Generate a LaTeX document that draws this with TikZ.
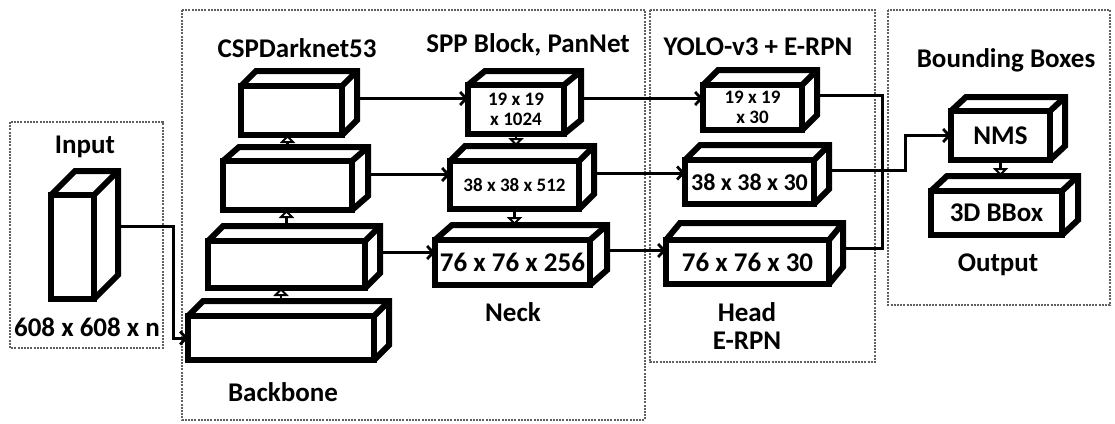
\documentclass[tikz,border=0pt]{standalone}
\usepackage{fontspec}
\setmainfont{Carlito}
\usetikzlibrary{arrows.meta,calc}

\tikzset{
  cubeface/.style={draw, line width=6pt, fill=white, inner sep=0pt, outer sep=0pt,
    align=center, font=\bfseries\fontsize{27}{29}\selectfont},
  cuberim/.style={line width=6pt, line join=miter},
  zone/.style={draw=gray!75!black, line width=1.1pt, dash pattern=on 2pt off 1.2pt},
  wire/.style={line width=3pt},
  feed/.style={wire, -{Straight Barb[length=6pt,width=13pt,line width=2.8pt]}},
  lift/.style={line width=2.6pt, -{Triangle[open,fill=white,length=8pt,width=15pt,line width=2.6pt]}},
  heading/.style={font=\bfseries\fontsize{27}{28}\selectfont, inner sep=0pt, align=center},
}

% \cuboid[opts]{name}{cx}{cy}{width}{height}{depth x}{depth up}{text}
\newcommand\cuboid[9][]{%
  \node[cubeface, minimum width=#5pt, minimum height=#6pt, #1] (#2) at (#3,#4) {#9};
  \draw[cuberim] (#2.north west) -- ++(#7,-#8) -- ($(#2.north east)+(#7,-#8)$)
    -- ($(#2.south east)+(#7,-#8)$) -- (#2.south east);
  \draw[cuberim] (#2.north east) -- ++(#7,-#8);
  \coordinate (#2r) at ($(#2.east)+(#7,-#8+3)$);
  \coordinate (#2t) at ($(#2.north)+(#7,-#8)$);
}

\begin{document}
\begin{tikzpicture}[x=1pt,y=-1pt]
\useasboundingbox (0,0) rectangle (1115,423);

% stage frames
\draw[zone] (10,122) rectangle (163,348);
\draw[zone] (182,10) rectangle (645,420);
\draw[zone] (650,10) rectangle (875,362);
\draw[zone] (888,10) rectangle (1110,305);

% input tensor
\cuboid{inp}{72.5}{247}{43}{104}{24}{24}{}

% backbone
\cuboid{bb1}{291.5}{110.5}{101}{49}{15}{15}{}
\cuboid{bb2}{287.5}{185.5}{129}{49}{16}{14}{}
\cuboid{bb3}{286.5}{264.5}{157}{47}{15}{15}{}
\cuboid{bb4}{281}{338}{186}{44}{15}{15}{}

% neck
\cuboid[font=\bfseries\fontsize{19}{20}\selectfont]{nk1}{516}{109.5}{96}{49}{17}{14}{19 x 19\\x 1024}
\cuboid[font=\bfseries\fontsize{19}{21}\selectfont]{nk2}{514.5}{185}{129}{48}{15}{15}{38 x 38 x 512}
\cuboid{nk3}{512.5}{262.5}{155}{45}{17}{15}{76 x 76 x 256}

% head
\cuboid[font=\bfseries\fontsize{19}{20}\selectfont]{hd1}{752.5}{107.5}{99}{45}{15}{15}{19 x 19\\x 30}
\cuboid[font=\bfseries\fontsize{24}{26}\selectfont]{hd2}{749.5}{182}{129}{44}{15}{15}{38 x 38 x 30}
\cuboid{hd3}{747.5}{262}{163}{44}{14}{17}{76 x 76 x 30}

% output
\cuboid{nms}{1000.5}{135.5}{99}{49}{15}{14}{NMS}
\cuboid{bbx}{996.5}{213}{131}{44}{16}{15}{3D BBox}

% headings
\node[heading] (tIn) at (85,147) {Input};
\node[heading] (tSz) at (87,327) {608 x 608 x n};
\node[heading] (tCsp) at (297,48) {CSPDarknet53};
\node[heading] (tBb) at (283,392) {Backbone};
\node[heading] (tSpp) at (528,45) {SPP Block, PanNet};
\node[heading] (tNk) at (513,312) {Neck};
\node[heading] (tYolo) at (758,47) {YOLO-v3 + E-RPN};
\node[heading] (tHd) at (747,326) {Head\\E-RPN};
\node[heading] (tBox) at (1006,60) {Bounding Boxes};
\node[heading] (tOut) at (998,265) {Output};

% input into backbone
\coordinate (ix) at (173,0);
\draw[feed] (inpr) -- (inpr -| ix) |- (bb4.west);

% backbone upward path
\draw[lift] (bb4.north |- bb4t) -- (bb4.north |- bb3.south);
\draw[lift] (bb3.north |- bb3t) -- (bb3.north |- bb2.south);
\draw[lift] (bb2.north |- bb2t) -- (bb2.north |- bb1.south);

% backbone to neck
\draw[feed] (bb1r) -- (bb1r -| nk1.west);
\draw[feed] (bb2r) -- (bb2r -| nk2.west);
\draw[feed] (bb3r) -- (bb3r -| nk3.west);

% neck downward path
\draw[lift] (nk1.south) -- (nk1.south |- nk2t);
\draw[lift] (nk2.south) -- (nk2.south |- nk3t);

% neck to head
\draw[feed] (nk1r) -- (nk1r -| hd1.west);
\draw[feed] (nk2r) -- (nk2r -| hd2.west);
\draw[feed] (nk3r) -- (nk3r -| hd3.west);

% head outputs merged into NMS
\coordinate (mx) at (882,0);
\coordinate (kx) at (905,0);
\draw[wire] (hd1r) -- (hd1r -| mx) -- (hd3r -| mx) -- (hd3r);
\draw[feed] (hd2r) -- (hd2r -| kx) -- (kx |- nms.west) -- (nms.west);

% NMS to 3D boxes
\draw[lift] (nms.south) -- (nms.south |- bbxt);
\end{tikzpicture}
\end{document}
